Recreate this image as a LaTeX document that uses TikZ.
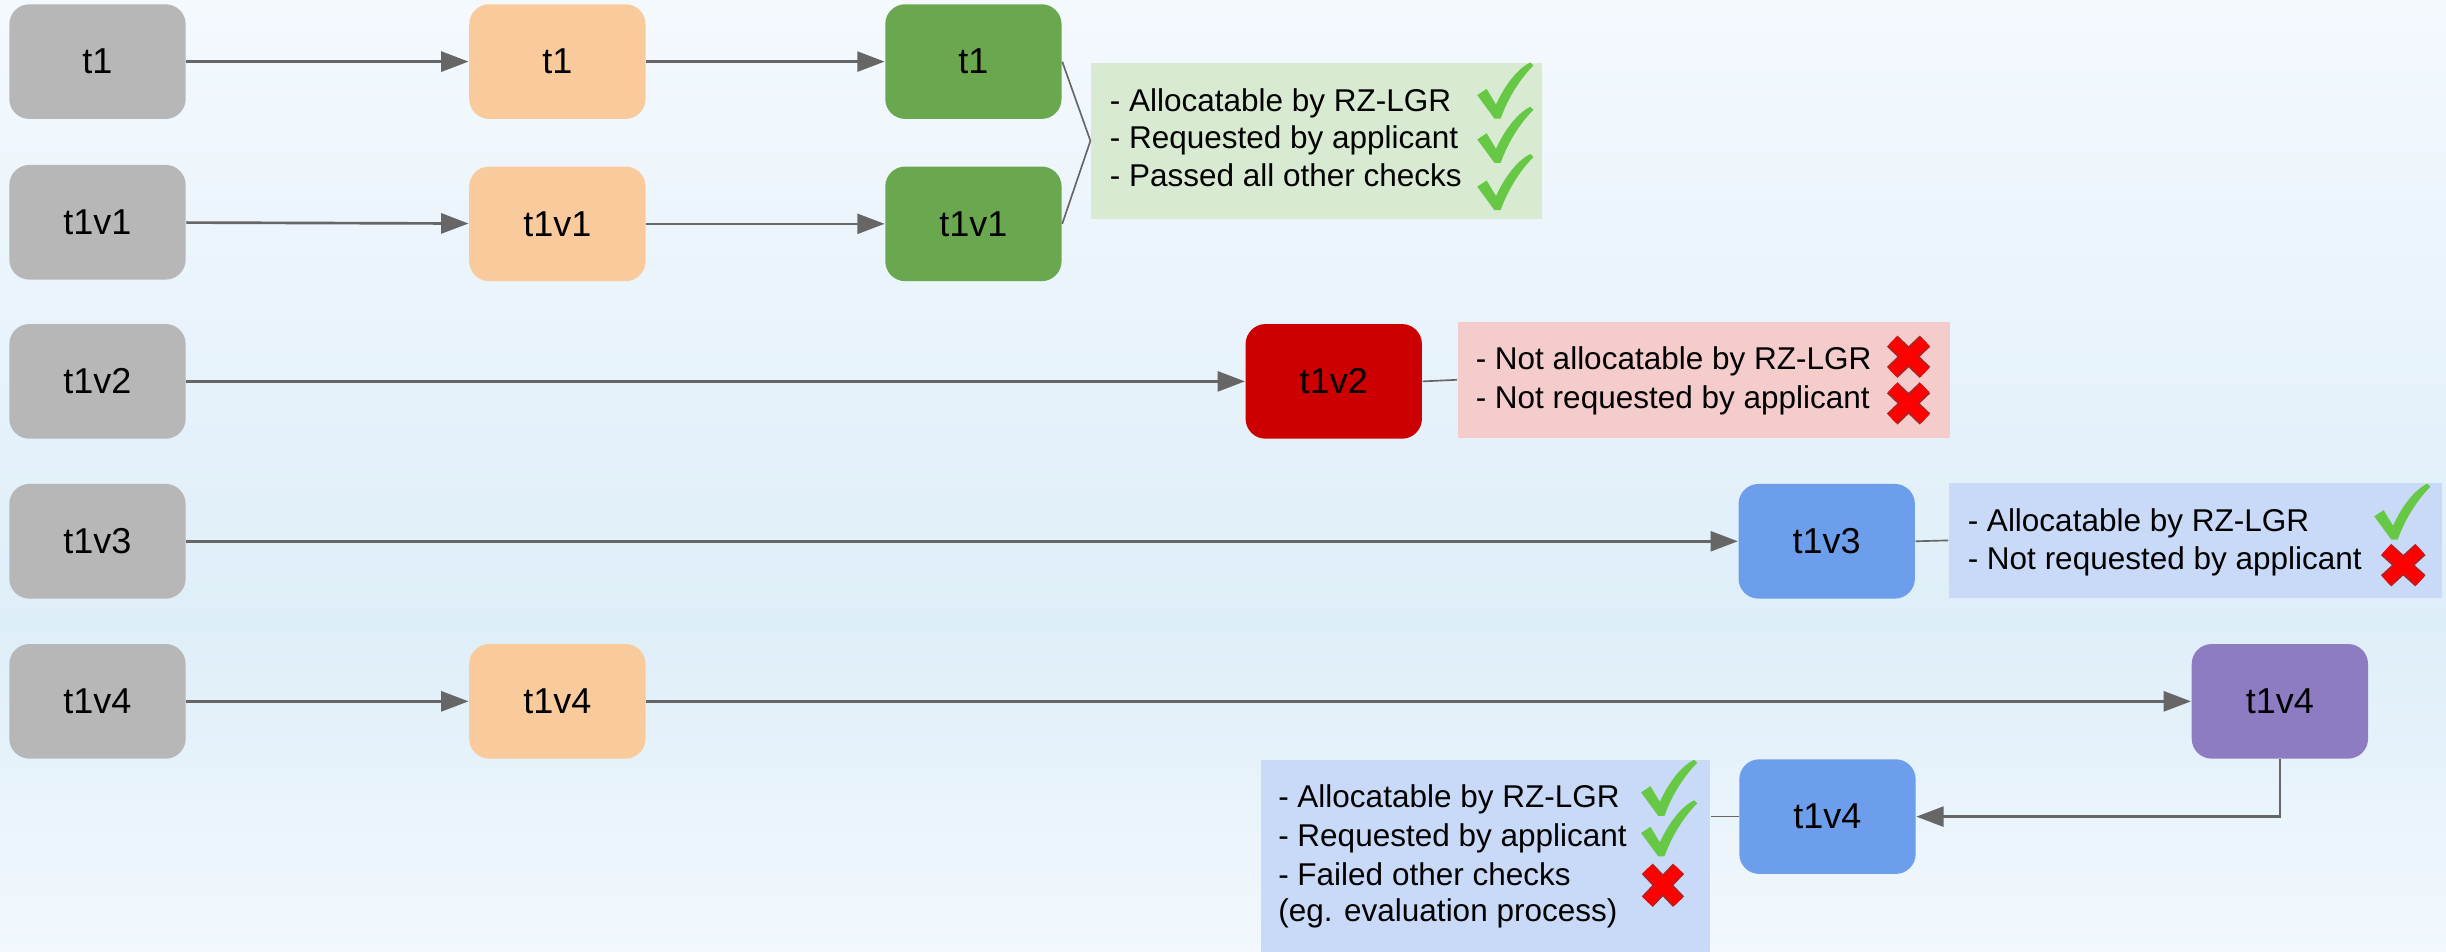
\documentclass[tikz,border=0pt]{standalone}
\usepackage{fontspec}
\setmainfont{Liberation Sans}
\usetikzlibrary{arrows.meta}
\definecolor{bgtop}{HTML}{F4F9FE}
\definecolor{bgmid}{HTML}{DEEEF8}
\definecolor{bgbot}{HTML}{F2F8FD}
\definecolor{cgray}{HTML}{B7B7B7}
\definecolor{corange}{HTML}{F9CB9C}
\definecolor{cgreen}{HTML}{6AA84F}
\definecolor{cred}{HTML}{CC0000}
\definecolor{cblue}{HTML}{6D9EEB}
\definecolor{cpurple}{HTML}{8E7CC3}
\definecolor{ngreen}{HTML}{D9EAD3}
\definecolor{npink}{HTML}{F4CCCC}
\definecolor{nblue}{HTML}{C9DAF8}
\definecolor{arrgray}{HTML}{666666}
\definecolor{chkgreen}{HTML}{66C845}
\definecolor{xred}{HTML}{FF0000}
\definecolor{xdark}{HTML}{B22222}
\newcommand{\chkmark}[2]{%
  \fill[chkgreen, shift={(#1,#2)}] (0,21) -- (6,17) -- (12,27)
    .. controls (18,14) and (26,4) .. (34,0) -- (36,2)
    .. controls (28,10) and (20,22) .. (15,36) -- (11,36) -- cycle;}
\newcommand{\crossmark}[4]{%
  \begin{scope}[shift={(#1,#2)}]
    \draw[xdark, line width=4.6pt] (5,5) -- (#3-5,#4-5) (#3-5,5) -- (5,#4-5);
    \draw[xred, line width=3.4pt] (5,5) -- (#3-5,#4-5) (#3-5,5) -- (5,#4-5);
  \end{scope}}
\begin{document}
\begin{tikzpicture}[x=0.468pt, y=-0.468pt,
  box/.style={rounded corners=6pt, minimum width=52.9pt, minimum height=34.4pt,
    inner sep=0pt, font=\fontsize{10.8}{13}\selectfont},
  arr/.style={draw=arrgray, line width=0.8pt, -{Triangle[length=8.2pt,width=6pt]}},
  link/.style={draw=arrgray, line width=0.5pt},
  notebox/.style={inner sep=0pt, anchor=north west},
  ntext/.style={anchor=base west, inner sep=0pt, font=\fontsize{9.45}{11.3}\selectfont}]
\useasboundingbox (0,0) rectangle (1568,610);
\shade[top color=bgtop, bottom color=bgmid] (0,0) rectangle (1568,400.5);
\shade[top color=bgmid, bottom color=bgbot] (0,400) rectangle (1568,610);

% row 1
\node[box, fill=cgray]   (g1) at (62.5,39.5) {t1};
\node[box, fill=corange] (o1) at (357.3,39.5) {t1};
\node[box, fill=cgreen]  (gr1) at (624,39.5) {t1};
% row 2
\node[box, fill=cgray]   (g2) at (62.5,142.5) {t1v1};
\node[box, fill=corange] (o2) at (357.3,143.5) {t1v1};
\node[box, fill=cgreen]  (gr2) at (624,143.5) {t1v1};
% row 3
\node[box, fill=cgray]   (g3) at (62.5,244.5) {t1v2};
\node[box, fill=cred]    (r3) at (855,244.5) {t1v2};
% row 4
\node[box, fill=cgray]   (g4) at (62.5,347) {t1v3};
\node[box, fill=cblue]   (b3) at (1171,347) {t1v3};
% row 5
\node[box, fill=cgray]   (g5) at (62.5,449.6) {t1v4};
\node[box, fill=corange] (o5) at (357.3,449.6) {t1v4};
\node[box, fill=cpurple] (p5) at (1461.5,449.6) {t1v4};
\node[box, fill=cblue]   (b5) at (1171.5,523.5) {t1v4};

% notes
\node[notebox, fill=ngreen, minimum width=289*0.468pt, minimum height=99.7*0.468pt] (ng) at (699,40) {};
\node[notebox, fill=npink, minimum width=315.5*0.468pt, minimum height=74.5*0.468pt] (nr) at (934,205.8) {};
\node[notebox, fill=nblue, minimum width=316*0.468pt, minimum height=74*0.468pt] (nb3) at (1249,309) {};
\node[notebox, fill=nblue, minimum width=288*0.468pt, minimum height=126*0.468pt] (nb5) at (808,487) {};

% arrows
\draw[arr] (g1) -- (o1);
\draw[arr] (o1) -- (gr1);
\draw[arr] (g2) -- (o2);
\draw[arr] (o2) -- (gr2);
\draw[arr] (g3) -- (r3);
\draw[arr] (g4) -- (b3);
\draw[arr] (g5) -- (o5);
\draw[arr] (o5) -- (p5);
\draw[arr] (p5.south) |- (b5.east);

% links to notes
\draw[link] (gr1.east) -- (ng.west);
\draw[link] (gr2.east) -- (ng.west);
\draw[link] (r3.east) -- (nr.west);
\draw[link] (b3.east) -- (nb3.west);
\draw[link] (b5.west) -- (b5.west -| nb5.east);

% note texts
\node[ntext] (ng1) at (711,71.2) {- Allocatable by RZ-LGR};
\node[ntext] (ng2) at (711,95.5) {- Requested by applicant};
\node[ntext] (ng3) at (711,119.7) {- Passed all other checks};
\node[ntext] (nr1) at (945.6,237) {- Not allocatable by RZ-LGR};
\node[ntext] (nr2) at (945.6,261.6) {- Not requested by applicant};
\node[ntext] (nb31) at (1261,340.8) {- Allocatable by RZ-LGR};
\node[ntext] (nb32) at (1261,364.9) {- Not requested by applicant};
\node[ntext] (nb51) at (819,517.8) {- Allocatable by RZ-LGR};
\node[ntext] (nb52) at (819,542.8) {- Requested by applicant};
\node[ntext] (nb53) at (819,567.4) {- Failed other checks};
\node[ntext] (nb54) at (819,590.9) {(eg. evaluation process)};

% marks
\chkmark{947}{40}
\chkmark{947}{68.4}
\chkmark{947}{98.7}
\crossmark{1208}{213.7}{31}{30}
\crossmark{1208}{243.6}{31}{30}
\chkmark{1522}{310}
\crossmark{1524.6}{347.3}{32}{30}
\chkmark{1052}{487}
\chkmark{1052}{513}
\crossmark{1051}{552}{30}{31}
\end{tikzpicture}
\end{document}
